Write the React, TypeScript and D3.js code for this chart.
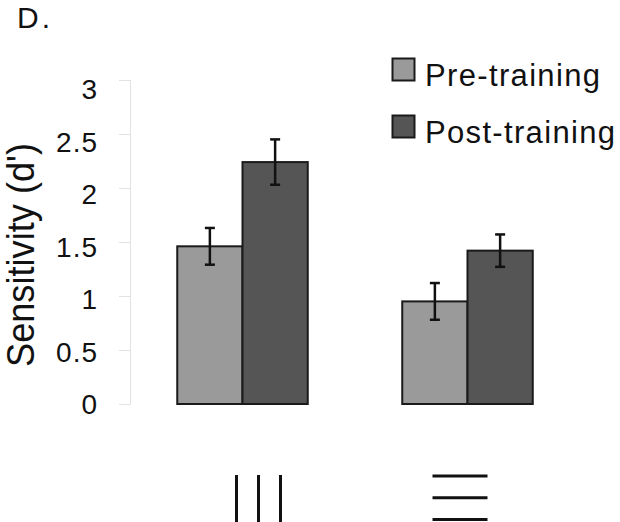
import React, { useEffect, useRef } from 'react';
import * as d3 from 'd3';

const categories = ['vertical', 'horizontal'];
const seriesNames = ['Pre-training', 'Post-training'];
const seriesColors = ['#9a9a9a', '#555555'];
const preValues = [1.46, 0.95];
const postValues = [2.24, 1.42];
const preErrors = [0.17, 0.17];
const postErrors = [0.21, 0.15];
const yTicks = [0, 0.5, 1, 1.5, 2, 2.5, 3];
const yTickLabels = ['0', '0.5', '1', '1.5', '2', '2.5', '3'];

const W = 620;
const H = 522;
const FONT = "'Liberation Sans', Arial, sans-serif";

export default function App() {
  const ref = useRef<SVGSVGElement>(null);

  useEffect(() => {
    const svg = d3.select(ref.current);
    svg.selectAll('*').remove();

    const y = d3.scaleLinear().domain([0, 3]).range([404, 80]);
    // labels sit a little lower than their ticks in the original
    const yLabel = d3.scaleLinear().domain([0, 3]).range([414, 99]);
    const x = d3.scaleBand<string>()
      .domain(categories)
      .range([130, 580])
      .paddingInner(0.42)
      .paddingOuter(0.21);
    const xs = d3.scaleBand<string>()
      .domain(seriesNames)
      .range([0, x.bandwidth()]);

    // title letter
    svg.append('text')
      .attr('x', 17)
      .attr('y', 28)
      .attr('font-family', FONT)
      .attr('font-size', 30)
      .attr('letter-spacing', 3)
      .attr('fill', '#111')
      .text('D.');

    // y axis
    const axis = svg.append('g');
    axis.append('line')
      .attr('x1', 130.5).attr('x2', 130.5)
      .attr('y1', y(3)).attr('y2', y(0))
      .attr('stroke', '#e2e2e2');
    axis.selectAll('.tick')
      .data(yTicks)
      .enter()
      .append('line')
      .attr('x1', 119).attr('x2', 130.5)
      .attr('y1', d => Math.round(y(d)) + 0.5)
      .attr('y2', d => Math.round(y(d)) + 0.5)
      .attr('stroke', '#e2e2e2');
    axis.selectAll('.lbl')
      .data(yTicks)
      .enter()
      .append('text')
      .attr('x', 98)
      .attr('y', d => yLabel(d))
      .attr('text-anchor', 'end')
      .attr('font-family', FONT)
      .attr('font-size', 28)
      .attr('letter-spacing', 1)
      .attr('fill', '#111')
      .text((d, i) => yTickLabels[i]);

    svg.append('text')
      .attr('transform', 'translate(34,255) rotate(-90)')
      .attr('text-anchor', 'middle')
      .attr('font-family', FONT)
      .attr('font-size', 38)
      .attr('textLength', 224)
      .attr('lengthAdjust', 'spacingAndGlyphs')
      .attr('fill', '#111')
      .text("Sensitivity (d')");

    // bars
    const rows = categories.map((c, i) => ({
      cat: c,
      vals: [
        { s: seriesNames[0], v: preValues[i], e: preErrors[i], c: seriesColors[0] },
        { s: seriesNames[1], v: postValues[i], e: postErrors[i], c: seriesColors[1] },
      ],
    }));

    const groups = svg.selectAll('.grp')
      .data(rows)
      .enter()
      .append('g')
      .attr('transform', d => `translate(${x(d.cat)},0)`);

    groups.selectAll('rect')
      .data(d => d.vals)
      .enter()
      .append('rect')
      .attr('x', d => xs(d.s)!)
      .attr('y', d => y(d.v))
      .attr('width', xs.bandwidth())
      .attr('height', d => y(0) - y(d.v))
      .attr('fill', d => d.c)
      .attr('stroke', '#1a1a1a')
      .attr('stroke-width', 2);

    const err = groups.selectAll('.err')
      .data(d => d.vals)
      .enter()
      .append('g')
      .attr('stroke', '#111')
      .attr('stroke-width', 2.5);
    err.append('line')
      .attr('x1', d => xs(d.s)! + xs.bandwidth() / 2)
      .attr('x2', d => xs(d.s)! + xs.bandwidth() / 2)
      .attr('y1', d => y(d.v + d.e))
      .attr('y2', d => y(d.v - d.e));
    err.selectAll('.cap')
      .data(d => [
        { cx: xs(d.s)! + xs.bandwidth() / 2, cy: y(d.v + d.e) },
        { cx: xs(d.s)! + xs.bandwidth() / 2, cy: y(d.v - d.e) },
      ])
      .enter()
      .append('line')
      .attr('x1', d => d.cx - 5)
      .attr('x2', d => d.cx + 5)
      .attr('y1', d => d.cy)
      .attr('y2', d => d.cy);

    // category glyphs under the bars
    const c0 = x(categories[0])! + x.bandwidth() / 2 + 16;
    svg.selectAll('.vline')
      .data([-1, 0, 1])
      .enter()
      .append('line')
      .attr('x1', d => c0 + d * 22)
      .attr('x2', d => c0 + d * 22)
      .attr('y1', 475)
      .attr('y2', 530)
      .attr('stroke', '#111')
      .attr('stroke-width', 3);
    const c1 = x(categories[1])! + x.bandwidth() / 2 - 8;
    svg.selectAll('.hline')
      .data([0, 1, 2])
      .enter()
      .append('line')
      .attr('x1', c1 - 27)
      .attr('x2', c1 + 28)
      .attr('y1', d => 476 + d * 21.8)
      .attr('y2', d => 476 + d * 21.8)
      .attr('stroke', '#111')
      .attr('stroke-width', 3);

    // legend
    const legendWidths = [175, 190];
    const legend = svg.selectAll('.leg')
      .data(seriesNames)
      .enter()
      .append('g')
      .attr('transform', (d, i) => `translate(392,${58 + i * 57})`);
    legend.append('rect')
      .attr('x', 0.5)
      .attr('y', 0.5)
      .attr('width', 22)
      .attr('height', 22)
      .attr('fill', (d, i) => seriesColors[i])
      .attr('stroke', '#1a1a1a')
      .attr('stroke-width', 2);
    legend.append('text')
      .attr('x', 33)
      .attr('y', 28)
      .attr('font-family', FONT)
      .attr('font-size', 31)
      .attr('textLength', (d, i) => legendWidths[i])
      .attr('lengthAdjust', 'spacing')
      .attr('fill', '#111')
      .text(d => d);
  }, []);

  return (
    <svg
      ref={ref}
      width={W}
      height={H}
      style={{ position: 'absolute', left: 0, top: 0, background: '#fff' }}
    />
  );
}
